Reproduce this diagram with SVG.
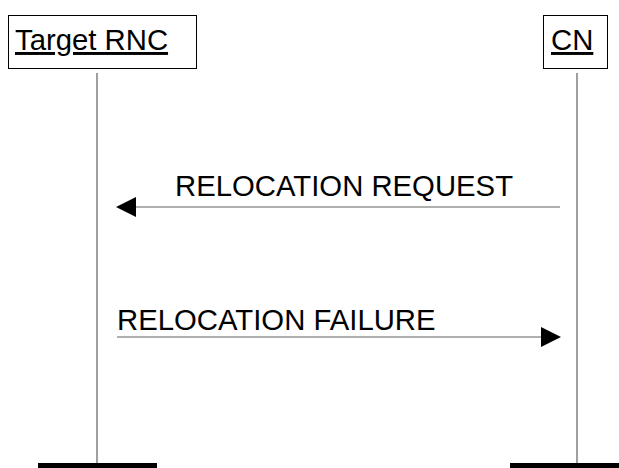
<svg xmlns="http://www.w3.org/2000/svg" width="619" height="468" viewBox="0 0 619 468">
<style>
.box{fill:#fff;stroke:#000;stroke-width:1}
.life{stroke:#808080;stroke-width:1.5;fill:none}
.msg{stroke:#606060;stroke-width:1.2;fill:none}
.t{font-family:"Liberation Sans",Arial,sans-serif;font-size:29.3px;fill:#000}
.u{text-decoration:underline}
.bar{fill:#000}
.head{fill:#000}
</style>
<rect width="619" height="468" fill="#fff"/>
<g id="node-target-rnc">
<rect class="box" x="8.5" y="15.5" width="188" height="53"/>
<text class="t u" x="15" y="50">Target RNC</text>
<line class="life" x1="97" y1="73" x2="97" y2="463"/>
<rect class="bar" x="38" y="463" width="119" height="5"/>
</g>
<g id="node-cn">
<rect class="box" x="543.5" y="15.5" width="64" height="53"/>
<text class="t u" x="551" y="50">CN</text>
<line class="life" x1="577" y1="73" x2="577" y2="463"/>
<rect class="bar" x="510" y="463" width="109" height="5"/>
</g>
<g id="connectors">
<g id="msg-relocation-request">
<line class="msg" x1="560" y1="207" x2="134" y2="207"/>
<polygon class="head" points="116,207 136,197 136,217"/>
<text class="t" x="175" y="196">RELOCATION REQUEST</text>
</g>
<g id="msg-relocation-failure">
<line class="msg" x1="117" y1="337" x2="543" y2="337"/>
<polygon class="head" points="561,337 541,327 541,347"/>
<text class="t" x="117" y="330">RELOCATION FAILURE</text>
</g>
</g>
</svg>
